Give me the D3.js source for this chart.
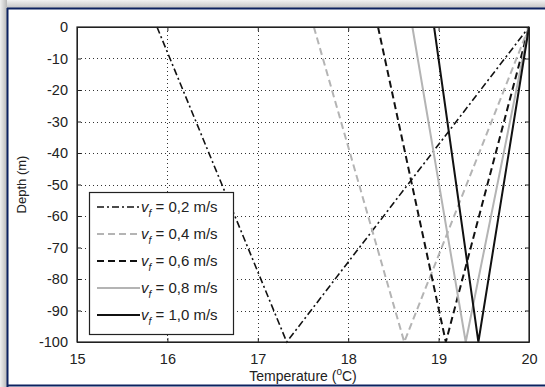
<!DOCTYPE html>
<html>
<head>
<meta charset="utf-8">
<script src="https://cdn.jsdelivr.net/npm/d3@7"></script>
<style>
  body { margin: 0; background: #fff; }
  text { font-family: "Liberation Sans", Arial, sans-serif; fill: #222; }
</style>
</head>
<body>
<svg id="chart" width="545" height="387"></svg>
<script>
// series labels and values
const speeds = ["0,2", "0,4", "0,6", "0,8", "1,0"];
const topTemp = [15.885, 17.62, 18.33, 18.71, 18.95];     // temperature at 0 m
const bottomTemp = [17.32, 18.62, 19.08, 19.30, 19.44];   // temperature at -100 m
const returnTemp = [20, 20, 20, 20, 20];                  // back up at 0 m
const xTicks = [15, 16, 17, 18, 19, 20];
const yTicks = [0, -10, -20, -30, -40, -50, -60, -70, -80, -90, -100];

const styles = [
  { color: "#111", dash: "7,3,2,3", width: 1.6 },
  { color: "#b4b4b4", dash: "7,4", width: 2 },
  { color: "#111", dash: "7,4", width: 2 },
  { color: "#b4b4b4", dash: null, width: 2 },
  { color: "#111", dash: null, width: 2 }
];

const margin = { left: 77, top: 27, right: 16, bottom: 45 };
const width = 545, height = 387;
const chart_width = width - margin.left - margin.right;
const chart_height = height - margin.top - margin.bottom;

const svg = d3.select("#chart");

// window-like frame
const defs = svg.append("defs");
const gTop = defs.append("linearGradient").attr("id", "gTop").attr("x1", 0).attr("y1", 0).attr("x2", 0).attr("y2", 1);
gTop.append("stop").attr("offset", "0%").attr("stop-color", "#f2f2f2");
gTop.append("stop").attr("offset", "100%").attr("stop-color", "#c4c4c4");
const gLeft = defs.append("linearGradient").attr("id", "gLeft").attr("x1", 0).attr("y1", 0).attr("x2", 1).attr("y2", 0);
gLeft.append("stop").attr("offset", "0%").attr("stop-color", "#f0f0f0");
gLeft.append("stop").attr("offset", "100%").attr("stop-color", "#b8b8b8");

svg.append("rect").attr("x", 0).attr("y", 0).attr("width", width).attr("height", 8).attr("fill", "url(#gTop)");
svg.append("rect").attr("x", 0).attr("y", 0).attr("width", 7).attr("height", height).attr("fill", "url(#gLeft)");
svg.append("line").attr("x1", 7).attr("x2", width).attr("y1", 8.5).attr("y2", 8.5).attr("stroke", "#0d2260").attr("stroke-width", 2);
svg.append("line").attr("x1", 7.5).attr("x2", 7.5).attr("y1", 8).attr("y2", height).attr("stroke", "#0d2260").attr("stroke-width", 2);
svg.append("line").attr("x1", 7).attr("x2", width).attr("y1", 385.5).attr("y2", 385.5).attr("stroke", "#0d2260").attr("stroke-width", 2);

const g = svg.append("g").attr("transform", "translate(" + margin.left + "," + margin.top + ")");

const xScale = d3.scaleLinear().domain([15, 20]).range([0, chart_width]);
const yScale = d3.scaleLinear().domain([-100, 0]).range([chart_height, 0]);

// dotted grid
g.append("g").selectAll("line").data(xTicks.slice(1, -1)).join("line")
  .attr("x1", d => Math.round(xScale(d)) + 0.5).attr("x2", d => Math.round(xScale(d)) + 0.5)
  .attr("y1", 0).attr("y2", chart_height)
  .attr("stroke", "#333").attr("stroke-width", 1).attr("stroke-dasharray", "1,3");
g.append("g").selectAll("line").data(yTicks.slice(1, -1)).join("line")
  .attr("y1", d => Math.round(yScale(d)) + 0.5).attr("y2", d => Math.round(yScale(d)) + 0.5)
  .attr("x1", 0).attr("x2", chart_width)
  .attr("stroke", "#333").attr("stroke-width", 1).attr("stroke-dasharray", "1,3");

// curves
const line = d3.line().x(d => xScale(d[0])).y(d => yScale(d[1]));
speeds.forEach((s, i) => {
  const pts = [[topTemp[i], 0], [bottomTemp[i], -100], [returnTemp[i], 0]];
  g.append("path").datum(pts)
    .attr("d", line)
    .attr("fill", "none")
    .attr("stroke", styles[i].color)
    .attr("stroke-width", styles[i].width)
    .attr("stroke-dasharray", styles[i].dash)
    .attr("stroke-linejoin", "miter");
});

// axes (ticks inside, box all round)
const fmt = d => String(d);
const axStyle = sel => {
  sel.select(".domain").attr("stroke", "#222");
  sel.selectAll(".tick line").attr("stroke", "#222");
  sel.selectAll("text").style("font-size", "14.5px").attr("fill", "#222");
};
g.append("g").attr("transform", "translate(0," + chart_height + ")")
  .call(d3.axisBottom(xScale).tickValues(xTicks).tickFormat(fmt).tickSizeInner(-4).tickSizeOuter(0).tickPadding(12))
  .call(axStyle);
g.append("g")
  .call(d3.axisTop(xScale).tickValues(xTicks).tickSizeInner(-4).tickSizeOuter(0).tickFormat(""))
  .call(axStyle);
g.append("g")
  .call(d3.axisLeft(yScale).tickValues(yTicks).tickFormat(fmt).tickSizeInner(-4).tickSizeOuter(0).tickPadding(9))
  .call(axStyle);
g.append("g").attr("transform", "translate(" + chart_width + ",0)")
  .call(d3.axisRight(yScale).tickValues(yTicks).tickSizeInner(-4).tickSizeOuter(0).tickFormat(""))
  .call(axStyle);
g.append("rect").attr("x", 0).attr("y", 0).attr("width", chart_width).attr("height", chart_height)
  .attr("fill", "none").attr("stroke", "#222").attr("stroke-width", 1.2);

// axis labels
const xl = g.append("text").attr("x", chart_width / 2).attr("y", chart_height + 39)
  .attr("text-anchor", "middle").style("font-size", "14px");
xl.append("tspan").text("Temperature (");
xl.append("tspan").attr("dy", -6).style("font-size", "10px").text("o");
xl.append("tspan").attr("dy", 6).text("C)");

g.append("text").attr("transform", "translate(-51," + chart_height / 2 + ") rotate(-90)")
  .attr("text-anchor", "middle").style("font-size", "13px").text("Depth (m)");

// legend
const lg = g.append("g").attr("transform", "translate(12,165)");
lg.append("rect").attr("x", 0.5).attr("y", 0.5).attr("width", 144).attr("height", 142)
  .attr("fill", "#fff").attr("stroke", "#222").attr("stroke-width", 1.2);
speeds.forEach((s, i) => {
  const y = 15 + i * 27;
  lg.append("line").attr("x1", 8).attr("x2", 51).attr("y1", y).attr("y2", y)
    .attr("stroke", styles[i].color).attr("stroke-width", styles[i].width)
    .attr("stroke-dasharray", styles[i].dash);
  const t = lg.append("text").attr("x", 52).attr("y", y + 5).style("font-size", "15px");
  t.append("tspan").style("font-style", "italic").text("v");
  t.append("tspan").attr("dy", 5).style("font-size", "10px").style("font-style", "italic").text("f");
  t.append("tspan").attr("dy", -5).text(" = " + s + " m/s");
});
</script>
</body>
</html>
